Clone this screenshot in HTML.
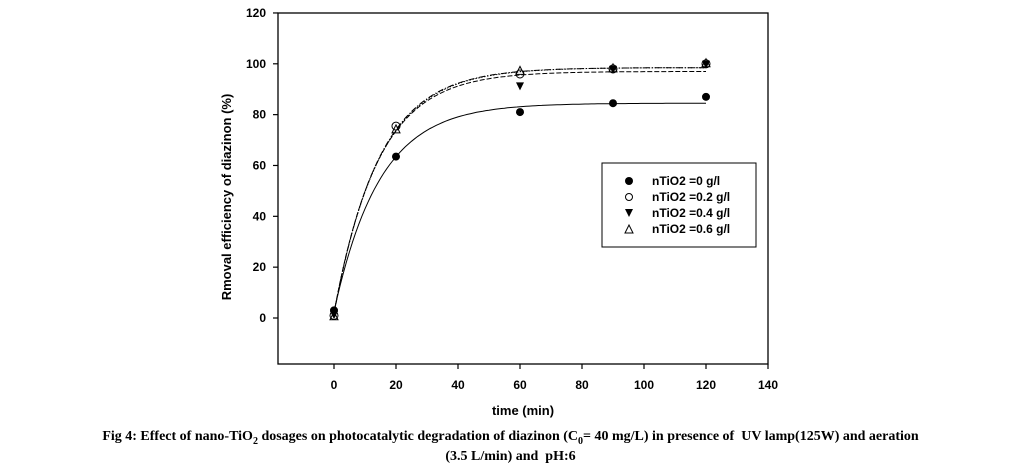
<!DOCTYPE html>
<html><head><style>
body{margin:0;background:#fff;width:1021px;height:471px;overflow:hidden}
.cap{position:absolute;left:0;width:1021px;text-align:center;font-family:"Liberation Serif",serif;font-weight:bold;font-size:14px;color:#000}
</style></head><body>
<svg id="s" width="1021" height="471" style="position:absolute;left:0;top:0" font-family="Liberation Sans, Arial, sans-serif" font-weight="bold" font-size="12">
<rect x="278" y="13" width="490" height="351" fill="none" stroke="#000" stroke-width="1.3"/>
<g id="ticks" stroke="#000" stroke-width="1.2"></g>
<g id="lbl"></g>
<text x="523" y="415" text-anchor="middle" font-size="13">time (min)</text>
<text transform="translate(231,197) rotate(-90)" text-anchor="middle" font-size="13">Rmoval efficiency of diazinon (%)</text>
<g id="curves" fill="none" stroke="#000" stroke-width="1"></g>
<g id="pts"></g>
<rect x="602" y="163" width="154" height="84" fill="#fff" stroke="#000" stroke-width="1"/>
<circle cx="629" cy="181" r="4" fill="#000"/>
<circle cx="629" cy="197" r="3.5" fill="#fff" stroke="#000"/>
<polygon points="625,209 633,209 629,217" fill="#000"/>
<polygon points="625,233 633,233 629,225" fill="#fff" stroke="#000"/>
<text x="652" y="185">nTiO2 =0 g/l</text>
<text x="652" y="201">nTiO2 =0.2 g/l</text>
<text x="652" y="217">nTiO2 =0.4 g/l</text>
<text x="652" y="233">nTiO2 =0.6 g/l</text>
</svg>
<div class="cap" style="top:429px">Fig 4: Effect of nano-TiO<sub style="font-size:10px">2</sub> dosages on photocatalytic degradation of diazinon (C<sub style="font-size:10px">0</sub>= 40 mg/L) in presence of&nbsp; UV lamp(125W) and aeration</div>
<div class="cap" style="top:449px">(3.5 L/min) and&nbsp; pH:6</div>
<script>
const NS="http://www.w3.org/2000/svg";
const X=t=>334+t*3.1, Y=v=>318-v*2.542;
function el(p,tag,a){const e=document.createElementNS(NS,tag);for(const k in a)e.setAttribute(k,a[k]);document.getElementById(p).appendChild(e);if(a.text!=null)e.textContent=a.text;return e;}
for(let v=0;v<=120;v+=20){el("ticks","line",{x1:278,x2:273,y1:Y(v),y2:Y(v)});el("lbl","text",{x:266,y:Y(v)+4,"text-anchor":"end",text:v});}
for(let t=0;t<=140;t+=20){el("ticks","line",{x1:X(t),x2:X(t),y1:364,y2:369});el("lbl","text",{x:X(t),y:389,"text-anchor":"middle",text:t});}
function curve(a,b,c,dash){let d="";for(let t=0;t<=120;t+=1){d+=(t?"L":"M")+X(t).toFixed(1)+","+Y(c+a*(1-Math.exp(-b*t))).toFixed(1);}el("curves","path",{d:d,"stroke-dasharray":dash||"none"});}
curve(82,0.068,2.5);
curve(95,0.07,2,"5,2");
curve(96.5,0.068,2,"1.5,1.5");
curve(97,0.069,1.5,"6,2,1,2");
const s1=[[0,3],[20,63.5],[60,81],[90,84.5],[120,87]];
s1.forEach(p=>el("pts","circle",{cx:X(p[0]),cy:Y(p[1]),r:4,fill:"#000"}));
[[60,91.5],[90,98],[120,100],[0,1.5]].forEach(p=>{const x=X(p[0]),y=Y(p[1]);el("pts","polygon",{points:`${x-4},${y-3} ${x+4},${y-3} ${x},${y+5}`,fill:"#000"});});
[[0,1],[20,75.5],[60,96],[90,98],[120,100]].forEach(p=>el("pts","circle",{cx:X(p[0]),cy:Y(p[1]),r:4,fill:"none",stroke:"#000"}));
[[0,0.5],[20,74],[60,97],[90,98],[120,100]].forEach(p=>{const x=X(p[0]),y=Y(p[1]);el("pts","polygon",{points:`${x-4},${y+3} ${x+4},${y+3} ${x},${y-5}`,fill:"none",stroke:"#000"});});
</script>
</body></html>
